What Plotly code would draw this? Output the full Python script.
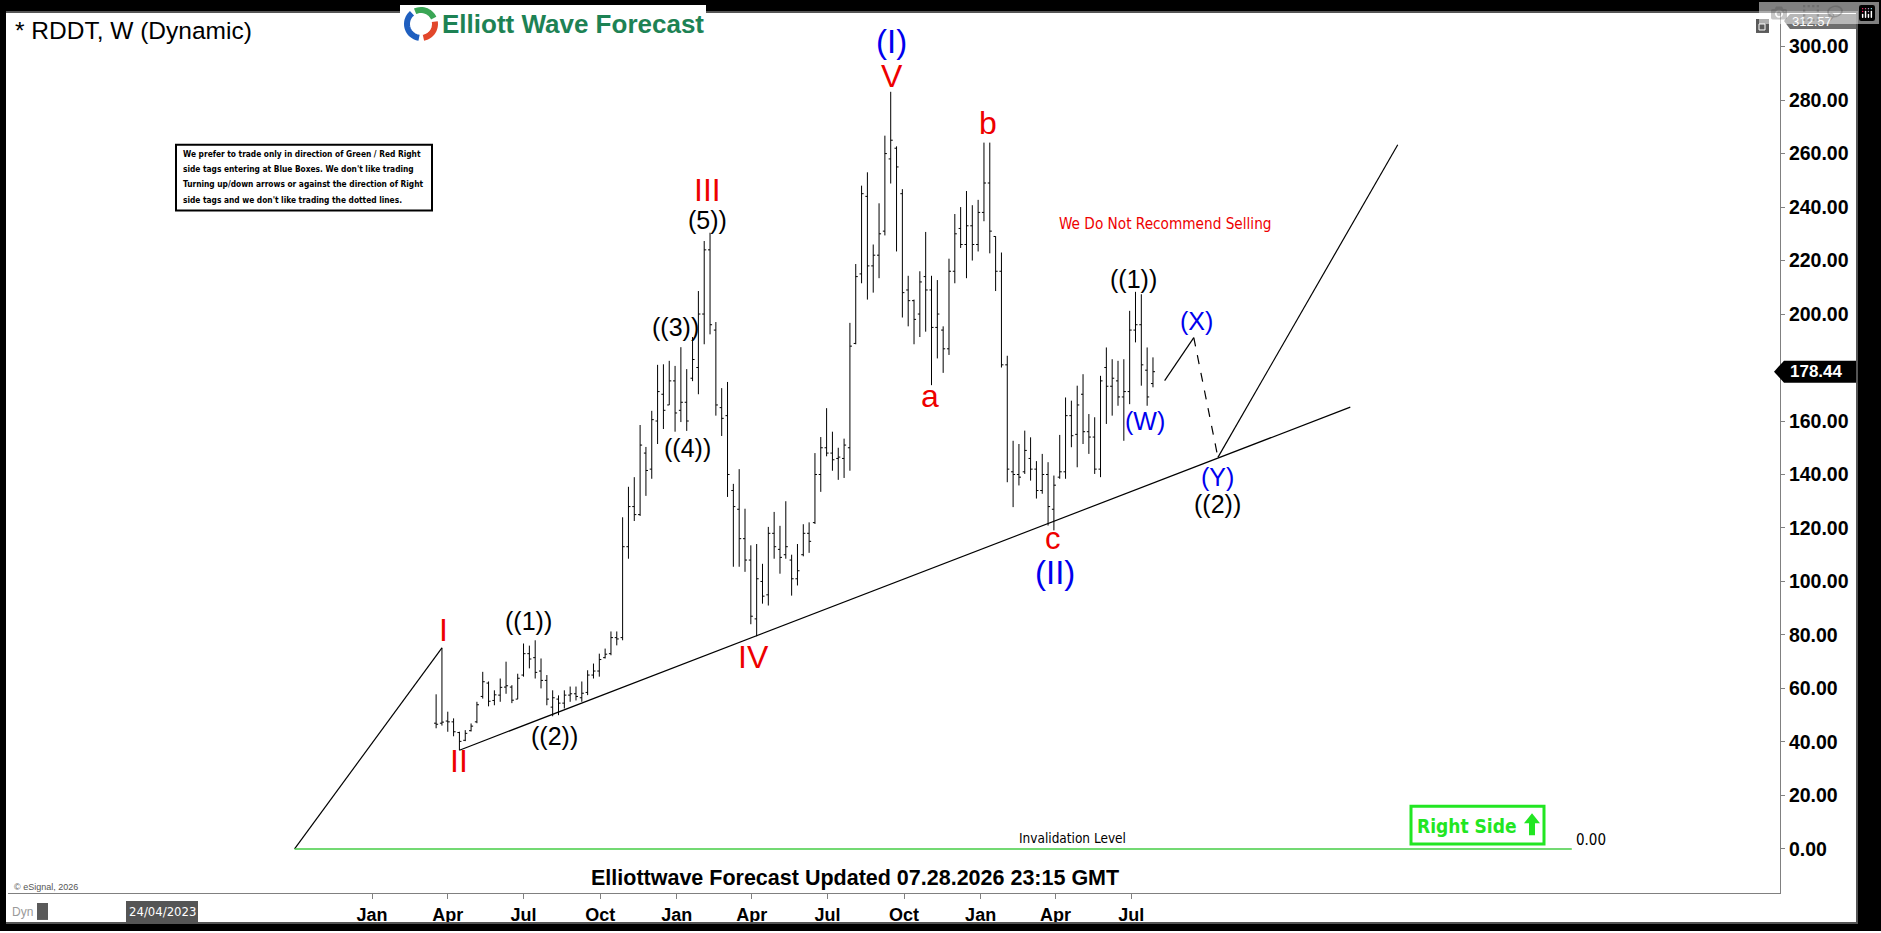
import math
import pandas as pd
import plotly.graph_objects as go

# ---------------- data (weekly bars, RDDT) ----------------
week_start = "2024-03-18"
opens = [47.0, 47.0, 47.8, 47.5, 43.5, 40.6, 44.2, 47.5, 57.0, 62.0,
         55.5, 57.5, 60.5, 60.5, 56.0, 65.0, 73.0, 71.5, 66.5, 63.0,
         53.0, 56.0, 54.5, 57.5, 58.0, 56.5, 58.5, 65.0, 66.5, 71.5,
         73.0, 79.0, 79.0, 113.0, 128.0, 125.0, 148.0, 142.0, 160.0, 170.0,
         166.0, 175.0, 164.0, 167.0, 176.0, 180.0, 200.0, 224.0, 194.0, 165.0,
         162.0, 134.0, 127.0, 116.0, 108.0, 86.0, 100.0, 95.0, 118.0, 112.0,
         110.0, 108.0, 101.0, 110.0, 118.0, 122.0, 140.0, 150.0, 148.0, 146.0,
         146.0, 150.0, 189.0, 215.0, 244.0, 218.0, 222.0, 231.0, 258.0, 262.0,
         245.0, 209.0, 205.0, 200.0, 214.0, 209.0, 195.0, 194.0, 187.0, 216.0,
         232.0, 226.0, 233.0, 226.0, 238.0, 249.0, 229.0, 216.0, 181.0, 141.0,
         140.0, 141.0, 146.0, 142.0, 134.0, 140.0, 127.0, 139.0, 141.0, 162.0,
         155.0, 170.0, 156.0, 154.0, 142.0, 180.0, 173.0, 175.0, 169.0, 171.0,
         194.0, 196.0, 179.0, 174.0]
highs = [57.8, 75.2, 51.3, 48.8, 43.8, 44.4, 46.9, 55.0, 66.2, 62.6,
         59.3, 63.7, 70.0, 61.2, 65.5, 76.8, 76.0, 78.0, 71.2, 65.0,
         59.3, 57.4, 59.3, 60.7, 60.7, 62.6, 66.8, 69.3, 73.0, 74.9,
         81.3, 81.3, 124.0, 135.4, 139.0, 158.5, 150.3, 163.8, 181.0, 181.2,
         182.5, 180.6, 187.6, 179.4, 191.4, 208.6, 227.3, 230.4, 197.0, 172.3,
         174.6, 136.5, 142.0, 127.2, 113.5, 114.0, 106.6, 120.4, 126.0, 120.8,
         130.0, 110.0, 114.0, 121.4, 122.1, 148.0, 154.0, 164.8, 156.0, 150.0,
         153.4, 196.7, 218.7, 248.0, 253.0, 226.0, 241.4, 266.7, 283.1, 262.7,
         246.7, 214.3, 205.4, 216.0, 230.7, 214.3, 212.7, 195.4, 220.7, 237.4,
         240.0, 246.0, 240.7, 242.7, 264.1, 264.1, 229.1, 223.0, 184.4, 152.6,
         151.4, 156.4, 153.9, 145.0, 147.7, 144.6, 139.6, 154.8, 168.8, 167.6,
         173.2, 177.5, 162.6, 161.4, 176.9, 187.5, 183.1, 182.5, 183.1, 201.2,
         208.3, 207.4, 187.5, 183.8]
lows = [45.1, 46.1, 43.8, 42.1, 36.9, 40.3, 43.9, 47.0, 56.2, 53.3,
        53.7, 55.0, 58.0, 54.5, 56.0, 64.4, 67.5, 63.7, 60.0, 53.7,
        49.6, 50.0, 52.5, 55.0, 55.5, 55.0, 57.5, 63.7, 64.4, 71.2,
        72.4, 76.1, 78.0, 108.5, 122.6, 124.5, 132.0, 138.4, 151.4, 157.0,
        166.0, 156.0, 159.6, 156.3, 174.9, 170.0, 188.7, 192.4, 162.0, 154.4,
        131.6, 105.5, 105.5, 103.6, 84.0, 79.5, 91.7, 91.0, 108.5, 102.9,
        108.5, 94.7, 98.5, 109.4, 110.7, 121.5, 133.5, 146.8, 141.4, 138.0,
        138.7, 141.4, 188.7, 211.5, 205.4, 208.0, 213.4, 229.4, 248.8, 223.4,
        198.7, 195.4, 188.7, 191.4, 193.4, 173.4, 183.4, 178.0, 184.7, 211.5,
        224.7, 213.4, 220.0, 223.4, 234.7, 222.7, 208.6, 180.0, 137.1, 127.8,
        135.9, 140.2, 137.7, 131.0, 132.8, 120.9, 119.1, 138.4, 138.4, 150.2,
        142.7, 151.4, 147.7, 140.2, 139.0, 158.9, 162.0, 165.7, 152.6, 166.3,
        189.4, 173.2, 165.7, 172.6]
closes = [46.6, 47.4, 47.5, 43.8, 40.2, 43.2, 45.9, 53.9, 62.5, 55.2,
          57.6, 60.4, 61.0, 55.6, 63.8, 73.0, 71.0, 66.0, 63.0, 56.0,
          56.5, 54.5, 57.5, 58.0, 57.0, 58.2, 65.0, 66.5, 70.8, 72.8,
          79.0, 78.5, 113.0, 128.0, 125.0, 151.0, 141.5, 160.5, 171.0, 164.0,
          175.0, 163.0, 167.0, 160.0, 183.0, 200.0, 224.0, 196.0, 166.0, 161.0,
          140.0, 128.0, 116.0, 108.0, 87.0, 101.0, 94.5, 118.0, 113.0, 109.0,
          113.0, 101.0, 104.0, 118.0, 115.0, 140.0, 150.0, 148.0, 145.5, 146.5,
          151.0, 188.0, 214.0, 245.0, 218.0, 222.0, 230.0, 260.0, 265.0, 255.0,
          208.0, 205.0, 198.0, 212.0, 209.0, 195.0, 200.0, 187.0, 216.0, 230.0,
          226.0, 233.0, 226.0, 238.0, 249.0, 231.0, 216.0, 181.0, 142.0, 140.0,
          139.0, 149.0, 142.0, 134.0, 140.0, 128.0, 136.0, 141.0, 162.0, 154.5,
          166.0, 156.0, 154.0, 142.0, 175.0, 173.0, 176.0, 169.0, 171.0, 194.0,
          196.0, 181.0, 169.0, 178.44]
dates = pd.date_range(week_start, periods=len(closes), freq="7D")

y_ticks = [0, 20, 40, 60, 80, 100, 120, 140, 160, 180, 200, 220, 240, 260, 280, 300]
x_tick_dates = ["2024-01-01", "2024-04-01", "2024-07-01", "2024-10-01",
                "2025-01-01", "2025-04-01", "2025-07-01", "2025-10-01",
                "2026-01-01", "2026-04-01", "2026-07-01"]
x_tick_text = ["Jan", "Apr", "Jul", "Oct", "Jan", "Apr", "Jul", "Oct", "Jan", "Apr", "Jul"]

scale_top = 312.57
last_price = closes[-1]

# wave labels: (text, date, price, colour, size)
RED, BLUE, BLK = "#ee0000", "#0000ee", "#000000"
wave_labels = [
    ("(I)", "2025-09-16", 302.0, BLUE, 33),
    ("V", "2025-09-16", 289.0, RED, 32),
    ("b", "2026-01-10", 271.5, RED, 32),
    ("III", "2025-02-07", 246.5, RED, 32),
    ("(5))", "2025-02-07", 235.1, BLK, 25),
    ("((3))", "2024-12-30", 195.3, BLK, 25),
    ("((4))", "2025-01-14", 150.0, BLK, 25),
    ("a", "2025-11-01", 169.5, RED, 32),
    ("c", "2026-03-29", 116.0, RED, 31),
    ("(II)", "2026-03-31", 103.5, BLUE, 33),
    ("((1))", "2026-07-04", 213.2, BLK, 25),
    ("(W)", "2026-07-18", 159.9, BLUE, 25),
    ("(X)", "2026-09-17", 197.5, BLUE, 25),
    ("(Y)", "2026-10-13", 139.0, BLUE, 25),
    ("((2))", "2026-10-13", 128.8, BLK, 25),
    ("((1))", "2024-07-07", 85.1, BLK, 25),
    ("I", "2024-03-27", 82.0, RED, 32),
    ("IV", "2025-04-03", 71.7, RED, 32),
    ("II", "2024-04-15", 32.7, RED, 32),
    ("((2))", "2024-08-07", 42.1, BLK, 25),
]

# lines: (x0, y0, x1, y1, dash)
wave_lines = [
    ("2023-09-30", 0.0, "2024-03-25", 75.2, "solid"),
    ("2024-04-15", 36.9, "2027-03-21", 165.2, "solid"),
    ("2026-08-10", 175.1, "2026-09-14", 191.2, "solid"),
    ("2026-09-14", 191.2, "2026-10-13", 146.4, "dash"),
    ("2026-10-13", 146.4, "2027-05-17", 263.3, "solid"),
]
invalidation = ("2023-09-30", "2027-12-12", 0.0)

info_lines = [
    "We prefer to trade only in direction of Green / Red Right",
    "side tags entering at Blue Boxes. We don't like trading",
    "Turning up/down arrows or against the direction of Right",
    "side tags and we don't like trading the dotted lines.",
]

# ---------------- layout geometry (pixels) ----------------
W, H = 1881, 933
L, R, T, B = 8, 1780, 13, 895
PX_PER_DAY = 0.8326
base = pd.Timestamp("2024-01-01")
base_px = 372
x_left = base + pd.Timedelta(days=(L - base_px) / PX_PER_DAY)
x_right = base + pd.Timedelta(days=(R - base_px) / PX_PER_DAY)


def px(x):
    return (x - L) / (R - L)


def py(y):
    return (B - y) / (B - T)


FONT = "Liberation Sans, Arial, sans-serif"
NARROW = "Liberation Sans Narrow, Arial Narrow, DejaVu Sans Condensed, Liberation Sans, sans-serif"

fig = go.Figure()
fig.add_trace(go.Ohlc(
    x=dates, open=opens, high=highs, low=lows, close=closes,
    increasing=dict(line=dict(color="black", width=1)),
    decreasing=dict(line=dict(color="black", width=1)),
    tickwidth=0.35, hoverinfo="skip", showlegend=False,
))

shapes = []
annotations = []


def rect_px(x0, y0, x1, y1, fill, line_color=None, lw=0, layer="above"):
    shapes.append(dict(type="rect", xref="paper", yref="paper",
                       x0=px(x0), x1=px(x1), y0=py(y0), y1=py(y1),
                       fillcolor=fill, layer=layer,
                       line=dict(color=line_color or fill, width=lw)))


def text_px(x, y, text, size, color="black", family=FONT, weight="normal",
            xanchor="center", yanchor="middle", **kw):
    annotations.append(dict(xref="paper", yref="paper", x=px(x), y=py(y), text=text,
                            showarrow=False, xanchor=xanchor, yanchor=yanchor,
                            font=dict(size=size, color=color, family=family, weight=weight), **kw))


def path_px(points, fill=None, color="black", width=0, closed=True):
    d = "M " + " L ".join(f"{px(a):.5f},{py(b):.5f}" for a, b in points)
    if closed:
        d += " Z"
    s = dict(type="path", xref="paper", yref="paper", path=d, layer="above",
             line=dict(color=color, width=width))
    if fill:
        s["fillcolor"] = fill
    shapes.append(s)


# wave lines
for x0, y0, x1, y1, dash in wave_lines:
    shapes.append(dict(type="line", xref="x", yref="y", x0=x0, y0=y0, x1=x1, y1=y1,
                       line=dict(color="black", width=1.2, dash=dash)))
shapes.append(dict(type="line", xref="x", yref="y", x0=invalidation[0], x1=invalidation[1],
                   y0=invalidation[2], y1=invalidation[2],
                   line=dict(color="#44cc44", width=1.5)))

for text, xd, yv, col, size in wave_labels:
    annotations.append(dict(x=xd, y=yv, xref="x", yref="y", text=text, showarrow=False,
                            font=dict(size=size, color=col, family=FONT)))

annotations.append(dict(x="2026-08-10", y=233.8, xref="x", yref="y",
                        text="We Do Not Recommend Selling", showarrow=False,
                        font=dict(size=15.2, color="#ee0000", family=NARROW)))
annotations.append(dict(x="2026-04-21", y=4.2, xref="x", yref="y", text="Invalidation Level",
                        showarrow=False, font=dict(size=13.5, color="black", family=NARROW)))
annotations.append(dict(x="2028-01-04", y=3.2, xref="x", yref="y", text="0.00",
                        showarrow=False, font=dict(size=15, color="black", family=NARROW)))

# Right Side box
GREEN = "#22e622"
rect_px(1411, 808, 1544, 846, "rgba(0,0,0,0)", GREEN, 3)
text_px(1415, 828, "Right Side", 19, GREEN, NARROW, "bold", xanchor="left")
path_px([(1532, 815), (1540, 825), (1535, 825), (1535, 837), (1529, 837),
         (1529, 825), (1524, 825)], fill=GREEN, color=GREEN, width=0)

# info box
rect_px(176, 145, 432, 211, "white", "black", 2)
for i, line in enumerate(info_lines):
    text_px(181, 154 + i * 15.4, line, 8.3, "black", NARROW, "bold", xanchor="left")

# title & footer texts
text_px(13, 31, "* RDDT, W (Dynamic)", 24.5, xanchor="left")
text_px(855, 880, "Elliottwave Forecast Updated 07.28.2026 23:15 GMT", 21.5, weight="bold")
text_px(12, 889, "© eSignal, 2026", 9, "#555555", xanchor="left")

# frame
rect_px(0, 0, W, 11, "black")
rect_px(0, 11, W, 13, "#555555")
rect_px(0, 0, 6, H, "black")
rect_px(1858, 0, W, H, "black")
rect_px(1856, 11, 1858, 926, "#555555")
rect_px(0, 926, W, H, "black")
rect_px(6, 924, 1856, 926, "#555555")

# logo
rect_px(400, 5, 706, 43, "white")
text_px(440, 24, "Elliott Wave Forecast", 26, "#1d8254", FONT, "bold", xanchor="left")
cx, cy, rr = 421, 24, 14
for a0, a1, col in [(25, 115, "#3aa655"), (130, 262, "#1f5fbf"), (280, 372, "#e2472b")]:
    pts = [(cx + rr * math.cos(math.radians(t)), cy - rr * math.sin(math.radians(t)))
           for t in range(a0, a1 + 1, 6)]
    path_px(pts, color=col, width=6, closed=False)

# top-right icon
rect_px(1756, 19, 1769, 33, "#5a5a5a")
rect_px(1759, 24, 1765, 30, "rgba(0,0,0,0)", "white", 1)

# price scale markers
path_px([(1784, 21), (1790, 14), (1856, 14), (1856, 29), (1790, 29)], fill="#6e6e6e", color="#6e6e6e")
text_px(1790, 21.5, f"{scale_top:.2f}", 13, "white", xanchor="left")

half = 11 / 2.68
shapes.append(dict(type="path", xref="paper", yref="y", layer="above",
                   path=(f"M {px(1774):.5f},{last_price} L {px(1784):.5f},{last_price + half} "
                         f"L {px(1856):.5f},{last_price + half} L {px(1856):.5f},{last_price - half} "
                         f"L {px(1784):.5f},{last_price - half} Z"),
                   fillcolor="black", line=dict(color="black", width=0)))
annotations.append(dict(xref="paper", yref="y", x=px(1788), y=last_price, text=f"{last_price:.2f}",
                        showarrow=False, xanchor="left",
                        font=dict(size=17, color="white", family=FONT, weight="bold")))

# tick labels hidden behind the last-price marker are not drawn
shown_ticks = [v for v in y_ticks if abs(v - last_price) > 6]

# bottom strip
text_px(10, 914, "Dyn", 12, "#9a9a9a", xanchor="left")
rect_px(37, 905, 48, 922, "#5a5a5a")
rect_px(126, 903, 198, 925, "#555555")
text_px(162, 914, "24/04/2023", 13, "white", NARROW)

fig.update_layout(
    width=W, height=H,
    margin=dict(l=L, r=W - R, t=T, b=H - B, pad=0),
    paper_bgcolor="white", plot_bgcolor="white",
    font=dict(family=FONT, color="black"),
    showlegend=False,
    shapes=shapes, annotations=annotations,
    xaxis=dict(type="date", range=[x_left, x_right], rangeslider=dict(visible=False),
               tickvals=x_tick_dates, ticktext=x_tick_text, showgrid=False, zeroline=False,
               showline=True, linecolor="#808080", linewidth=1, ticks="outside", ticklen=5,
               tickcolor="#808080", tickfont=dict(size=18, family=FONT, weight="bold", color="black"),
               fixedrange=True),
    yaxis=dict(side="right", range=[-16.5, scale_top], tickvals=shown_ticks,
               ticktext=[f"{v:.2f}" for v in shown_ticks], showgrid=False, zeroline=False,
               showline=True, linecolor="#808080", linewidth=1, ticks="outside", ticklen=4,
               tickcolor="#808080", tickfont=dict(size=19.5, family=FONT, weight="bold", color="black"),
               fixedrange=True),
)

fig.write_html("out.html",
               post_script="document.body.style.margin='0';document.body.style.overflow='hidden';")
